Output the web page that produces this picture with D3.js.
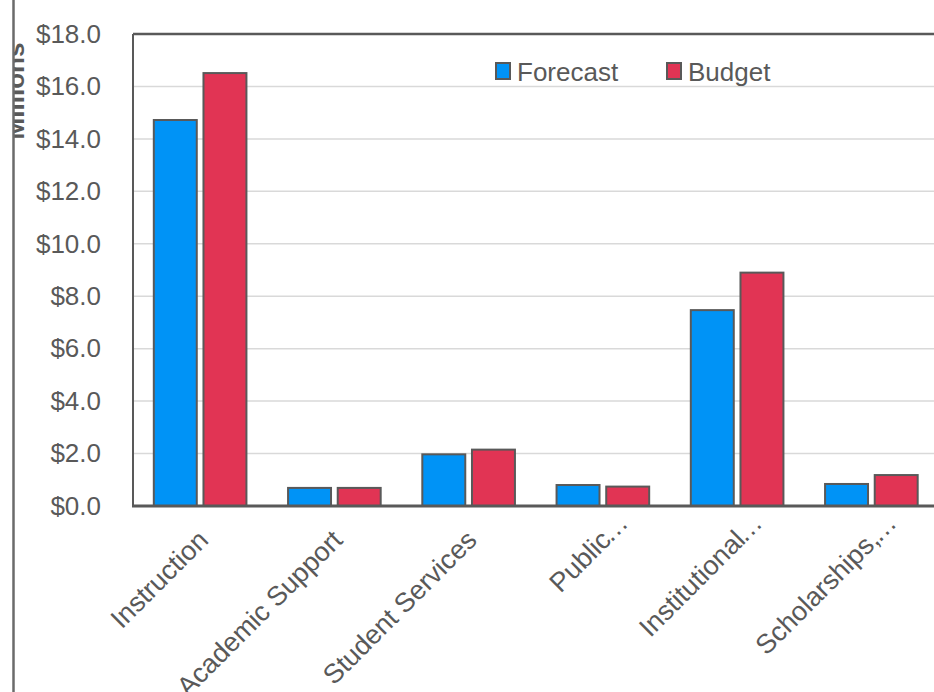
<!DOCTYPE html>
<html>
<head>
<meta charset="utf-8">
<script src="https://cdn.jsdelivr.net/npm/d3@7"></script>
<style>
  body { margin: 0; background: #fff; }
  svg { display: block; font-family: Arial, "Liberation Sans", sans-serif; }
</style>
</head>
<body>
<div id="chart"></div>
<script>
/**
 * Data
 */
const categories = ["Instruction", "Academic Support", "Student Services", "Public…", "Institutional…", "Scholarships,…"];
const seriesNames = ["Forecast", "Budget"];
const forecastValues = [14.72, 0.69, 1.97, 0.80, 7.47, 0.84];
const budgetValues = [16.51, 0.69, 2.15, 0.74, 8.90, 1.18];
const yTicks = [0, 2, 4, 6, 8, 10, 12, 14, 16, 18];

const width = 934, height = 692,
    plot = { left: 133, right: 938.5, top: 34, bottom: 506 },
    colors = { Forecast: "#0093f6", Budget: "#e13454" },
    textColor = "#595959";

const rows = categories.map((c, i) => ({
    category: c,
    values: [
        { key: "Forecast", value: forecastValues[i] },
        { key: "Budget", value: budgetValues[i] }
    ]
}));

const svg = d3.select("#chart").append("svg")
    .attr("width", width)
    .attr("height", height);

// SCALES
const x0 = d3.scaleBand()
    .domain(categories)
    .range([plot.left, plot.right])
    .paddingInner(0.31)
    .paddingOuter(0.155);

const x1 = d3.scaleBand()
    .domain(seriesNames)
    .range([0, x0.bandwidth()])
    .paddingInner(0.135);

const y = d3.scaleLinear()
    .domain([0, 18])
    .range([plot.bottom, plot.top]);

// gridlines
svg.append("g")
    .selectAll("line")
    .data(yTicks.filter(d => d > 0 && d < 18))
    .join("line")
    .attr("x1", plot.left)
    .attr("x2", width)
    .attr("y1", d => y(d))
    .attr("y2", d => y(d))
    .attr("stroke", "#d9d9d9")
    .attr("stroke-width", 1.5);

// y axis labels
const yAxis = d3.axisLeft(y)
    .tickValues(yTicks)
    .tickSize(0)
    .tickPadding(32)
    .tickFormat(d => "$" + d3.format(".1f")(d));

svg.append("g")
    .attr("transform", `translate(${plot.left},0)`)
    .call(yAxis)
    .call(g => g.select(".domain").remove())
    .call(g => g.selectAll("text")
        .attr("fill", textColor)
        .attr("font-size", 26)
        .attr("font-family", "Arial, 'Liberation Sans', sans-serif"));

// bars
svg.append("g")
    .selectAll("g")
    .data(rows)
    .join("g")
    .attr("transform", d => `translate(${x0(d.category)},0)`)
    .selectAll("rect")
    .data(d => d.values)
    .join("rect")
    .attr("x", d => x1(d.key))
    .attr("y", d => y(d.value))
    .attr("width", x1.bandwidth())
    .attr("height", d => y(0) - y(d.value))
    .attr("fill", d => colors[d.key])
    .attr("stroke", textColor)
    .attr("stroke-width", 2);

// plot frame: left axis, top border, baseline
svg.append("line")
    .attr("x1", plot.left).attr("x2", plot.left)
    .attr("y1", plot.top).attr("y2", plot.bottom)
    .attr("stroke", textColor).attr("stroke-width", 2);
svg.append("line")
    .attr("x1", plot.left).attr("x2", width)
    .attr("y1", plot.top).attr("y2", plot.top)
    .attr("stroke", textColor).attr("stroke-width", 2.5);
svg.append("line")
    .attr("x1", plot.left - 1).attr("x2", width)
    .attr("y1", y(0)).attr("y2", y(0))
    .attr("stroke", textColor).attr("stroke-width", 3);

// x axis labels (rotated); a trailing ellipsis hangs past the anchor like in the source
const xLabels = svg.append("g")
    .selectAll("g")
    .data(categories)
    .join("g")
    .attr("transform", d => `translate(${x0(d) + x0.bandwidth() / 2 + 3},${plot.bottom + 29}) rotate(-45)`)
    .attr("fill", textColor)
    .attr("font-size", 27);
xLabels.append("text")
    .attr("text-anchor", "end")
    .attr("dy", "0.35em")
    .text(d => d.replace("…", ""));
xLabels.filter(d => d.endsWith("…"))
    .append("text")
    .attr("text-anchor", "start")
    .attr("dx", -3)
    .attr("dy", "0.35em")
    .text("…");

// legend
const legend = svg.append("g")
    .selectAll("g")
    .data(seriesNames)
    .join("g")
    .attr("transform", (d, i) => `translate(${496 + i * 171},0)`);
legend.append("rect")
    .attr("x", 0).attr("y", 63)
    .attr("width", 14).attr("height", 16)
    .attr("fill", d => colors[d])
    .attr("stroke", textColor)
    .attr("stroke-width", 2);
legend.append("text")
    .attr("x", 21).attr("y", 81)
    .attr("fill", textColor)
    .attr("font-size", 26)
    .text(d => d);

// y axis title (partly hidden behind the outer frame)
svg.append("defs").append("clipPath").attr("id", "clipLeft")
    .append("rect").attr("x", 14).attr("y", 0).attr("width", 40).attr("height", height);
svg.append("g")
    .attr("clip-path", "url(#clipLeft)")
    .append("text")
    .attr("transform", "translate(24,91) rotate(-90)")
    .attr("text-anchor", "middle")
    .attr("font-size", 26)
    .attr("font-weight", "bold")
    .attr("fill", textColor)
    .text("Millions");

// outer chart frame, left edge
svg.append("line")
    .attr("x1", 13.5).attr("x2", 13.5)
    .attr("y1", 0).attr("y2", height)
    .attr("stroke", "#6b6b6b").attr("stroke-width", 2.5);
</script>
</body>
</html>
